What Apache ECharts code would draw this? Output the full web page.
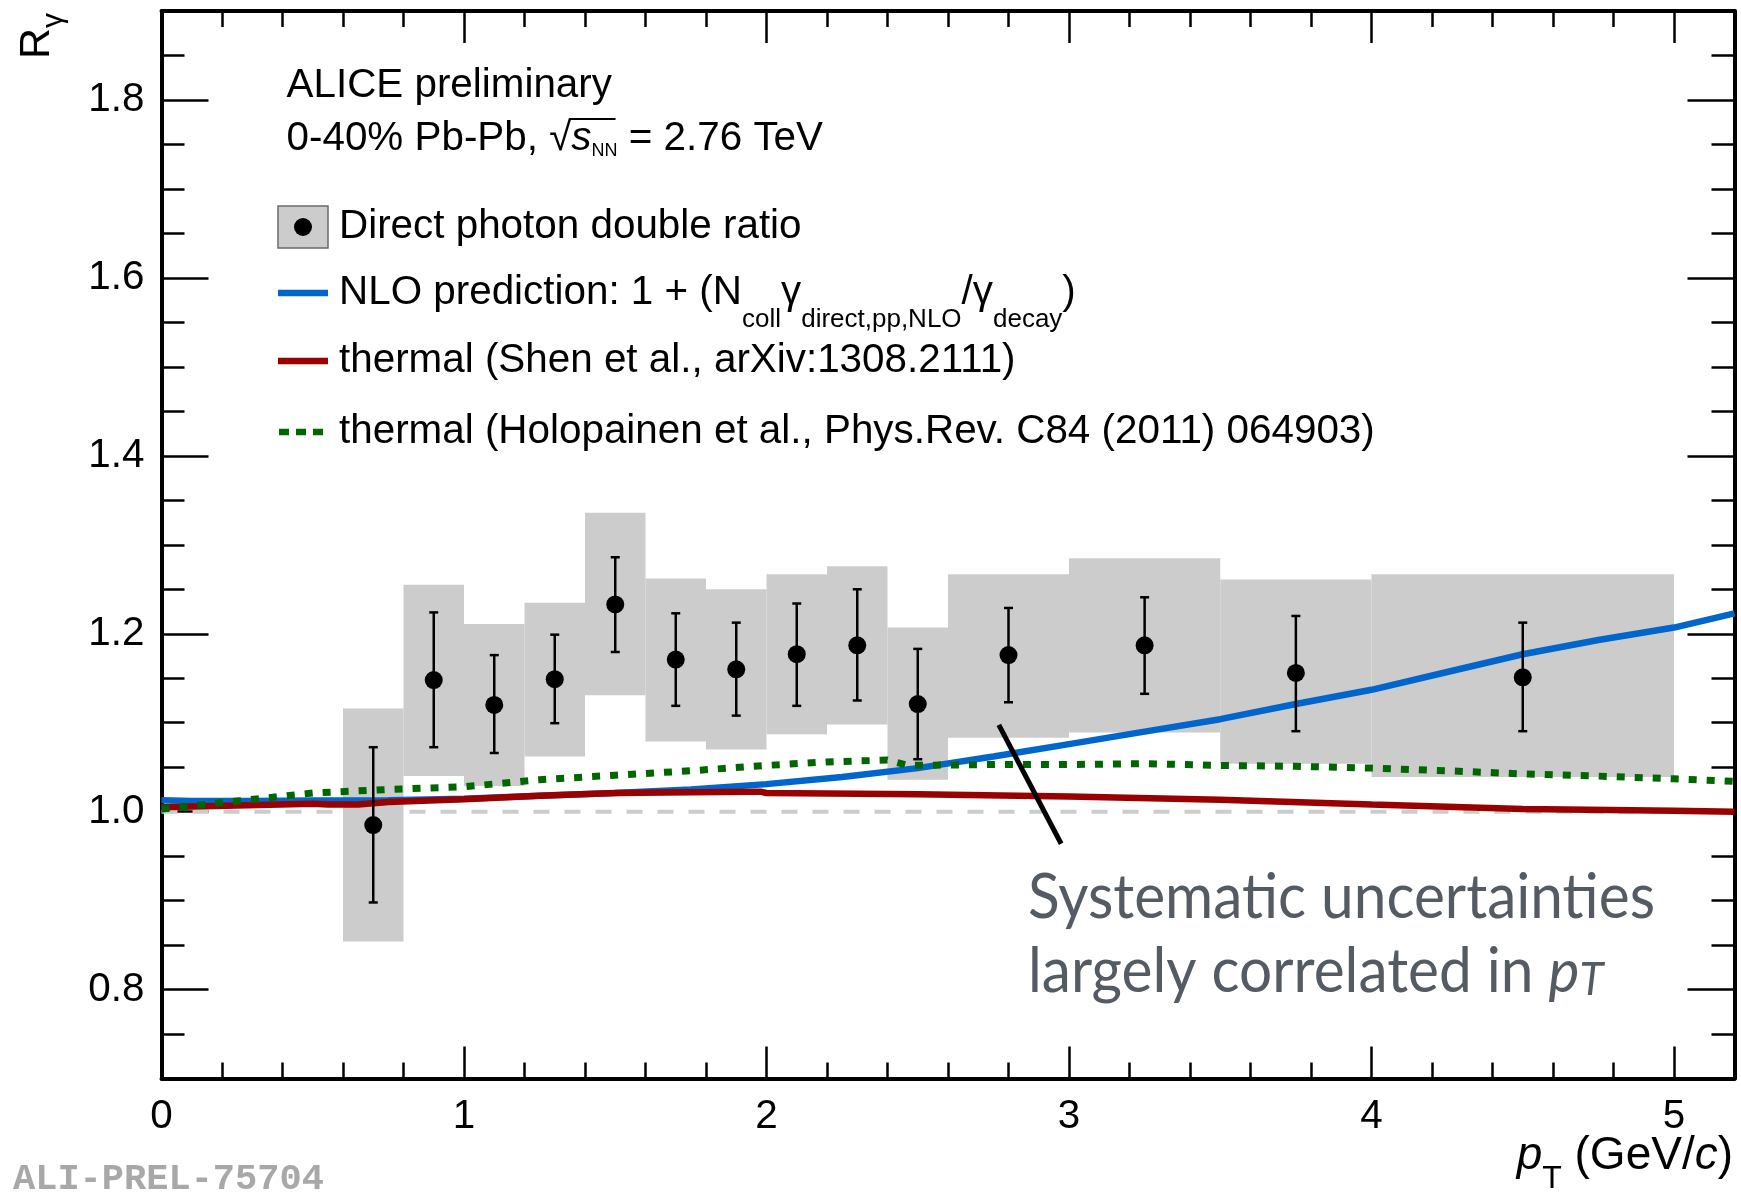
<!DOCTYPE html>
<html><head><meta charset="utf-8">
<script src="https://cdn.jsdelivr.net/npm/echarts@6/dist/echarts.min.js"></script>
<style>html,body{margin:0;padding:0;background:#fff}#chart{width:1741px;height:1192px}</style>
</head><body><div id="chart"></div>
<script>
// ---------------- data ----------------
// systematic uncertainty boxes (pT bin edges, lower / upper R_gamma)
const sysLow    = [0.6, 0.8, 1.0, 1.2, 1.4, 1.6, 1.8, 2.0, 2.2, 2.4, 2.6, 3.0, 3.5, 4.0];
const sysHigh   = [0.8, 1.0, 1.2, 1.4, 1.6, 1.8, 2.0, 2.2, 2.4, 2.6, 3.0, 3.5, 4.0, 5.0];
const sysBottom = [0.854, 1.040, 1.029, 1.062, 1.131, 1.079, 1.070, 1.087, 1.098, 1.036, 1.083, 1.089, 1.054, 1.039];
const sysTop    = [1.116, 1.255, 1.211, 1.235, 1.336, 1.262, 1.250, 1.267, 1.276, 1.207, 1.267, 1.285, 1.261, 1.267];
// data points with statistical errors
const ptX    = [0.7, 0.9, 1.1, 1.3, 1.5, 1.7, 1.9, 2.1, 2.3, 2.5, 2.8, 3.25, 3.75, 4.5];
const ptY    = [0.985, 1.148, 1.120, 1.149, 1.233, 1.171, 1.160, 1.177, 1.187, 1.121, 1.176, 1.187, 1.156, 1.151];
const statHi = [1.0725, 1.224, 1.176, 1.199, 1.286, 1.223, 1.2125, 1.234, 1.250, 1.183, 1.229, 1.241, 1.220, 1.2125];
const statLo = [0.898, 1.0725, 1.066, 1.0995, 1.1795, 1.119, 1.108, 1.119, 1.125, 1.059, 1.123, 1.1325, 1.0905, 1.0905];
// NLO prediction
const nloX = [0, 0.1, 0.3, 0.5, 0.75, 1.0, 1.25, 1.5, 1.75, 2.0, 2.25, 2.5, 2.75, 3.0, 3.25, 3.5, 3.75, 4.0, 4.25, 4.5, 4.75, 5.0, 5.2];
const nloY = [1.013, 1.012, 1.012, 1.0125, 1.013, 1.0145, 1.018, 1.021, 1.025, 1.031, 1.039, 1.049, 1.062, 1.076, 1.090, 1.104, 1.121, 1.137, 1.157, 1.177, 1.193, 1.207, 1.223];
// thermal (Shen et al.)
const shenX = [0, 0.25, 0.5, 0.55, 0.65, 0.75, 1.0, 1.25, 1.5, 1.75, 1.98, 2.0, 2.5, 3.0, 3.5, 4.0, 4.5, 5.0, 5.2];
const shenY = [1.005, 1.007, 1.009, 1.008, 1.008, 1.011, 1.014, 1.018, 1.021, 1.022, 1.0225, 1.021, 1.0195, 1.017, 1.0135, 1.008, 1.003, 1.001, 1.000];
// thermal (Holopainen et al.)
const holoX = [0, 0.25, 0.5, 0.75, 1.0, 1.25, 1.5, 1.75, 2.0, 2.2, 2.4, 2.47, 2.75, 3.0, 3.25, 3.5, 3.75, 4.0, 4.25, 4.5, 4.75, 5.0, 5.2];
const holoY = [1.003, 1.012, 1.021, 1.025, 1.028, 1.036, 1.041, 1.046, 1.052, 1.056, 1.058, 1.052, 1.053, 1.053, 1.054, 1.052, 1.051, 1.049, 1.046, 1.0425, 1.040, 1.037, 1.034];
// reference line at unity and annotation pointer (data coordinates)
const unityX = [0, 5.2];
const unityY = [1, 1];
const pointerX = [2.768, 2.974];
const pointerY = [1.0975, 0.964];
// axis tick labels
const xTickLabels = ['0', '1', '2', '3', '4', '5'];
const yTickLabels = ['0.8', '1.0', '1.2', '1.4', '1.6', '1.8'];

// ---------------- layout ----------------
const W = 1741, H = 1192;
const X_MIN = 0, X_MAX = 5.2, Y_MIN = 0.7, Y_MAX = 1.9;
const G = {left: 161.5, right: 6.5, top: 11, bottom: 113.4};
const pxX = (W - G.left - G.right) / (X_MAX - X_MIN);
const pxY = (H - G.top - G.bottom) / (Y_MAX - Y_MIN);
const gridB = {left: G.left, right: G.right, top: G.top + (Y_MAX - 1.8) * pxY, bottom: G.bottom + (0.8 - Y_MIN) * pxY};
const gridC = {left: G.left, right: G.right + (X_MAX - 5) * pxX, top: G.top, bottom: G.bottom};

const FF = '"Liberation Sans", Arial, Helvetica, sans-serif';
const mc = document.createElement('canvas').getContext('2d');
function fontStr(s) { return (s.italic ? 'italic ' : '') + (s.bold ? 'bold ' : '') + s.size + 'px ' + (s.family || FF); }
function textW(t, f) { mc.font = f; return mc.measureText(t).width; }
function midOff(f) { mc.font = f; const m = mc.measureText('Hg'); return (m.fontBoundingBoxAscent - m.fontBoundingBoxDescent) / 2; }
function textRun(x, baseline, segs, color, align, sx) {
  sx = sx || 1;
  const ws = segs.map(s => (textW(s.t, fontStr(s)) + (s.gap || 0)) * sx);
  const total = ws.reduce((a, b) => a + b, 0);
  let cx = align === 'right' ? x - total : x;
  const els = [];
  const pos = [];
  segs.forEach((s, i) => {
    const f = fontStr(s);
    pos.push(cx);
    els.push({type: 'text', x: cx, y: baseline + (s.dy || 0) - midOff(f), z: 100, scaleX: sx,
      style: {text: s.t, font: f, fill: s.color || color, align: 'left', verticalAlign: 'middle'}});
    cx += ws[i];
  });
  return {els, total, pos, ws};
}

const graphics = [];
const TS = 40.4, SS = 26;
// header
graphics.push(...textRun(286.5, 100, [{t: 'ALICE preliminary', size: TS}], '#000').els);
const hdr = textRun(286.5, 152.5, [
  {t: '0-40% Pb-Pb, ', size: TS},
  {t: '\u221A', size: TS},
  {t: 's', size: TS, italic: true},
  {t: 'NN', size: 18, dy: 5},
  {t: ' = 2.76 TeV', size: TS}
], '#000');
graphics.push(...hdr.els);
graphics.push({type: 'line', z: 100, shape: {x1: hdr.pos[2] - 2, y1: 119, x2: hdr.pos[4] - 2, y2: 119}, style: {stroke: '#000', lineWidth: 2}});

// legend
graphics.push({type: 'rect', z: 100, shape: {x: 278, y: 206, width: 50, height: 42}, style: {fill: '#cccccc', stroke: '#6a6a6a', lineWidth: 1.5}});
graphics.push({type: 'circle', z: 101, shape: {cx: 303, cy: 227, r: 9}, style: {fill: '#000'}});
graphics.push(...textRun(339, 241, [{t: 'Direct photon double ratio', size: TS}], '#000').els);
graphics.push({type: 'line', z: 100, shape: {x1: 278, y1: 293, x2: 328, y2: 293}, style: {stroke: '#0066cc', lineWidth: 6.5}});
graphics.push(...textRun(339, 307, [
  {t: 'NLO prediction: 1 + (N', size: TS},
  {t: 'coll', size: SS, dy: 22},
  {t: '\u03B3', size: TS},
  {t: 'direct,pp,NLO', size: SS, dy: 22},
  {t: '/\u03B3', size: TS},
  {t: 'decay', size: SS, dy: 22},
  {t: ')', size: TS}
], '#000').els);
graphics.push({type: 'line', z: 100, shape: {x1: 278, y1: 361, x2: 328, y2: 361}, style: {stroke: '#990000', lineWidth: 6.5}});
graphics.push(...textRun(339, 375, [{t: 'thermal (Shen et al., arXiv:1308.2111)', size: TS}], '#000').els);
graphics.push({type: 'line', z: 100, shape: {x1: 279, y1: 432, x2: 328, y2: 432}, style: {stroke: '#006600', lineWidth: 6.5, lineDash: [10, 7]}});
graphics.push(...textRun(339, 445.5, [{t: 'thermal (Holopainen et al., Phys.Rev. C84 (2011) 064903)', size: TS}], '#000').els);

// axis titles
const ytitle = textRun(0, 0, [{t: 'R', size: 43}, {t: '\u03B3', size: 30, dy: 12}], '#000');
graphics.push({type: 'group', x: 52, y: 59, rotation: Math.PI / 2, children: ytitle.els});
graphics.push(...textRun(1733, 1172.5, [
  {t: 'p', size: 46, italic: true},
  {t: 'T', size: 32, dy: 18},
  {t: ' (GeV/', size: 46},
  {t: 'c', size: 46, italic: true},
  {t: ')', size: 46}
], '#000', 'right').els);

// annotation text (cap height matched, width fitted by horizontal scale)
const AF = 'Lato, "Open Sans", sans-serif';
const AS = 61;
const annW = textW('Systematic uncertainties', AS + 'px ' + AF);
const ASX = 627 / annW;
const ANN = '#555b63';
graphics.push(...textRun(1028, 922, [{t: 'Systematic uncertainties', size: AS, family: AF}], ANN, 'left', ASX).els);
graphics.push(...textRun(1028, 996, [
  {t: 'largely correlated in ', size: AS, family: AF},
  {t: 'p', size: AS, family: AF, italic: true},
  {t: 'T', size: AS * 0.75, family: AF, italic: true, dy: 2}
], ANN, 'left', ASX).els);

// watermark
graphics.push(...textRun(13, 1190, [{t: 'ALI-PREL-75704', size: 37, bold: true, family: '"Liberation Mono", "Courier New", monospace'}], '#a8a8a8').els);

// ---------------- chart ----------------
const chart = echarts.init(document.getElementById('chart'), null, {renderer: 'canvas'});
const blackLine = {onZero: false, lineStyle: {color: '#000', width: 4}};
const hiddenLine = {show: false, onZero: false};
const noLabel = {show: false};
const minorX = {show: true, inside: true, length: 16, lineStyle: {color: '#000', width: 2.5}};
const minorY = {show: true, inside: true, length: 23, lineStyle: {color: '#000', width: 2.5}};
const majorX = {show: true, inside: true, length: 32, lineStyle: {color: '#000', width: 2.5}};
const majorY = {show: true, inside: true, length: 47, lineStyle: {color: '#000', width: 2.5}};
const labelFont = {fontSize: 40.4, fontFamily: FF, color: '#000'};

const option = {
  animation: false,
  backgroundColor: '#fff',
  grid: [
    {left: G.left, right: G.right, top: G.top, bottom: G.bottom},
    gridB,
    gridC
  ],
  xAxis: [
    {gridIndex: 0, type: 'value', position: 'bottom', min: X_MIN, max: X_MAX, interval: 0.2,
     axisLine: blackLine, axisTick: minorX, axisLabel: noLabel, splitLine: {show: false}},
    {gridIndex: 0, type: 'value', position: 'top', min: X_MIN, max: X_MAX, interval: 0.2,
     axisLine: blackLine, axisTick: minorX, axisLabel: noLabel, splitLine: {show: false}},
    {gridIndex: 2, type: 'value', position: 'bottom', min: 0, max: 5, interval: 1,
     axisLine: hiddenLine, axisTick: majorX, splitLine: {show: false},
     axisLabel: Object.assign({margin: 18, formatter: v => xTickLabels[Math.round(v)] || ''}, labelFont)},
    {gridIndex: 2, type: 'value', position: 'top', min: 0, max: 5, interval: 1,
     axisLine: hiddenLine, axisTick: majorX, axisLabel: noLabel, splitLine: {show: false}},
    {gridIndex: 1, type: 'value', show: false, min: 0, max: 1, axisLine: hiddenLine}
  ],
  yAxis: [
    {gridIndex: 0, type: 'value', position: 'left', min: Y_MIN, max: Y_MAX, interval: 0.05,
     axisLine: blackLine, axisTick: minorY, axisLabel: noLabel, splitLine: {show: false}},
    {gridIndex: 0, type: 'value', position: 'right', min: Y_MIN, max: Y_MAX, interval: 0.05,
     axisLine: blackLine, axisTick: minorY, axisLabel: noLabel, splitLine: {show: false}},
    {gridIndex: 1, type: 'value', position: 'left', min: 0.8, max: 1.8, interval: 0.2,
     axisLine: hiddenLine, axisTick: majorY, splitLine: {show: false},
     axisLabel: Object.assign({margin: 17, formatter: v => yTickLabels[Math.round((v - 0.8) / 0.2)] || ''}, labelFont)},
    {gridIndex: 1, type: 'value', position: 'right', min: 0.8, max: 1.8, interval: 0.2,
     axisLine: hiddenLine, axisTick: majorY, axisLabel: noLabel, splitLine: {show: false}},
    {gridIndex: 2, type: 'value', show: false, min: 0, max: 1, axisLine: hiddenLine}
  ],
  series: [
    {type: 'custom', name: 'sys', xAxisIndex: 0, yAxisIndex: 0, z: 1, clip: true,
     data: sysLow.map((l, i) => [l, sysHigh[i], sysBottom[i], sysTop[i]]),
     renderItem: (params, api) => {
       const p1 = api.coord([api.value(0), api.value(3)]);
       const p2 = api.coord([api.value(1), api.value(2)]);
       return {type: 'rect', shape: {x: p1[0], y: p1[1], width: p2[0] - p1[0], height: p2[1] - p1[1]}, style: {fill: '#cccccc'}};
     }},
    {type: 'line', name: 'unity', xAxisIndex: 0, yAxisIndex: 0, z: 2, symbol: 'none', silent: true,
     data: unityX.map((x, i) => [x, unityY[i]]),
     lineStyle: {color: '#cccccc', width: 4, type: [16, 15]}},
    {type: 'line', name: 'NLO', xAxisIndex: 0, yAxisIndex: 0, z: 3, symbol: 'none', clip: true,
     data: nloX.map((x, i) => [x, nloY[i]]), lineStyle: {color: '#0066cc', width: 6.5}},
    {type: 'line', name: 'Shen', xAxisIndex: 0, yAxisIndex: 0, z: 4, symbol: 'none', clip: true,
     data: shenX.map((x, i) => [x, shenY[i]]), lineStyle: {color: '#990000', width: 6.5}},
    {type: 'line', name: 'Holopainen', xAxisIndex: 0, yAxisIndex: 0, z: 5, symbol: 'none', clip: true,
     data: holoX.map((x, i) => [x, holoY[i]]), lineStyle: {color: '#006600', width: 7, type: [8, 10]}},
    {type: 'line', name: 'pointer', xAxisIndex: 0, yAxisIndex: 0, z: 6, symbol: 'none',
     data: pointerX.map((x, i) => [x, pointerY[i]]), lineStyle: {color: '#000', width: 5}},
    {type: 'custom', name: 'stat', xAxisIndex: 0, yAxisIndex: 0, z: 7,
     data: ptX.map((x, i) => [x, statLo[i], statHi[i]]),
     renderItem: (params, api) => {
       const x = api.value(0);
       const a = api.coord([x, api.value(2)]);
       const b = api.coord([x, api.value(1)]);
       const cap = 4.5, st = {stroke: '#000', lineWidth: 2.5};
       return {type: 'group', children: [
         {type: 'line', shape: {x1: a[0], y1: a[1], x2: b[0], y2: b[1]}, style: st},
         {type: 'line', shape: {x1: a[0] - cap, y1: a[1], x2: a[0] + cap, y2: a[1]}, style: st},
         {type: 'line', shape: {x1: b[0] - cap, y1: b[1], x2: b[0] + cap, y2: b[1]}, style: st}
       ]};
     }},
    {type: 'scatter', name: 'points', xAxisIndex: 0, yAxisIndex: 0, z: 8, symbol: 'circle', symbolSize: 18,
     data: ptX.map((x, i) => [x, ptY[i]]), itemStyle: {color: '#000', opacity: 1}}
  ],
  graphic: {elements: graphics}
};
chart.setOption(option);
</script></body></html>
